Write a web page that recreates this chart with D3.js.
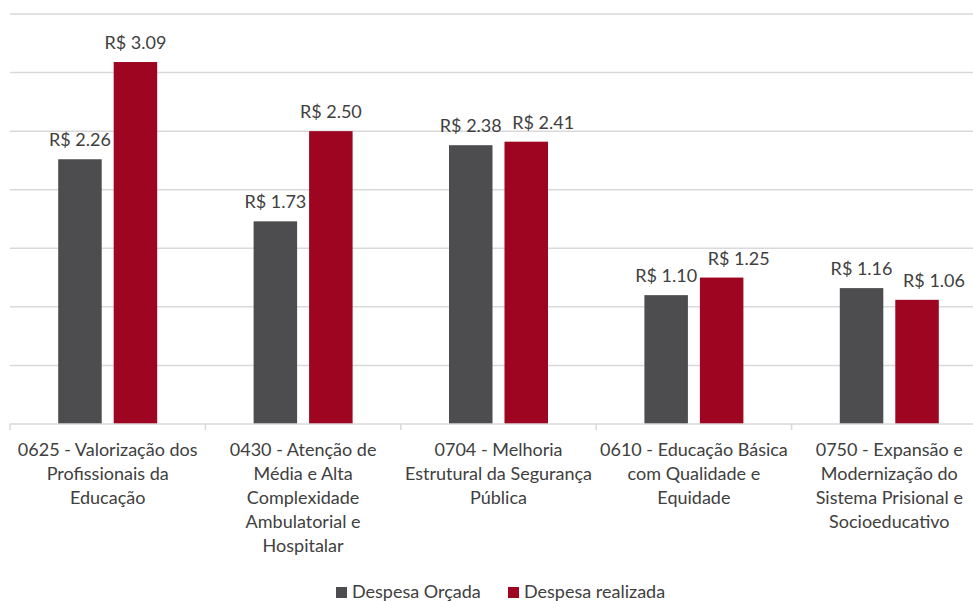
<!DOCTYPE html>
<html>
<head>
<meta charset="utf-8">
<script src="https://cdn.jsdelivr.net/npm/d3@7"></script>
<style>
  body { margin: 0; background: #fff; }
  svg { display: block; font-family: Lato, "Open Sans", sans-serif; }
</style>
</head>
<body>
<div id="vis"></div>
<script>
const FRAME_WIDTH = 973;
const FRAME_HEIGHT = 601;
const PLOT = { left: 10, right: 987, top: 14, bottom: 424 };

const CATEGORIES = ["0625", "0430", "0704", "0610", "0750"];
const CATEGORY_LABELS = [
  ["0625 - Valorização dos", "Profissionais da", "Educação"],
  ["0430 - Atenção de", "Média e Alta", "Complexidade", "Ambulatorial e", "Hospitalar"],
  ["0704 - Melhoria", "Estrutural da Segurança", "Pública"],
  ["0610 - Educação Básica", "com Qualidade e", "Equidade"],
  ["0750 - Expansão e", "Modernização do", "Sistema Prisional e", "Socioeducativo"]
];
const SERIES = ["Despesa Orçada", "Despesa realizada"];
const ORCADA = [2.26, 1.73, 2.38, 1.10, 1.16];
const REALIZADA = [3.09, 2.50, 2.41, 1.25, 1.06];
const Y_TICKS = [0, 0.5, 1, 1.5, 2, 2.5, 3, 3.5];

const COLOR = d3.scaleOrdinal().domain(SERIES).range(["#4d4d4f", "#9d0521"]);

const data = CATEGORIES.map((c, i) => ({
  cat: c,
  values: [
    { series: SERIES[0], value: ORCADA[i] },
    { series: SERIES[1], value: REALIZADA[i] }
  ]
}));

const FRAME = d3.select("#vis")
  .append("svg")
  .attr("width", FRAME_WIDTH)
  .attr("height", FRAME_HEIGHT);

const X_SCALE = d3.scaleBand()
  .domain(CATEGORIES)
  .range([PLOT.left, PLOT.right]);

const GROUP_WIDTH = 99;
const X_INNER = d3.scaleBand()
  .domain(SERIES)
  .range([X_SCALE.bandwidth() / 2 - GROUP_WIDTH / 2, X_SCALE.bandwidth() / 2 + GROUP_WIDTH / 2])
  .paddingInner(0.216);

const Y_SCALE = d3.scaleLinear()
  .domain([0, 3.5])
  .range([PLOT.bottom, PLOT.top]);

// gridlines
FRAME.append("g")
  .selectAll("line")
  .data(Y_TICKS.slice(1))
  .enter()
  .append("line")
  .attr("x1", PLOT.left)
  .attr("x2", FRAME_WIDTH)
  .attr("y1", (d) => Y_SCALE(d))
  .attr("y2", (d) => Y_SCALE(d))
  .attr("stroke", "#d9d9d9")
  .attr("stroke-width", 1.5);

// bars
const groups = FRAME.selectAll(".group")
  .data(data)
  .enter()
  .append("g")
  .attr("class", "group")
  .attr("transform", (d) => `translate(${X_SCALE(d.cat)},0)`);

groups.selectAll("rect")
  .data((d) => d.values)
  .enter()
  .append("rect")
  .attr("x", (d) => X_INNER(d.series))
  .attr("y", (d) => Y_SCALE(d.value))
  .attr("width", X_INNER.bandwidth())
  .attr("height", (d) => Y_SCALE(0) - Y_SCALE(d.value))
  .attr("fill", (d) => COLOR(d.series));

// value labels; shift the second one right when both labels sit at the same height
groups.each(function (d) {
  const g = d3.select(this);
  const close = Math.abs(Y_SCALE(d.values[0].value) - Y_SCALE(d.values[1].value)) < 20;
  d.values.forEach((v, i) => {
    g.append("text")
      .attr("x", X_INNER(v.series) + X_INNER.bandwidth() / 2 + (close && i === 1 ? 17 : 0))
      .attr("y", Y_SCALE(v.value) - 13)
      .attr("text-anchor", "middle")
      .attr("fill", "#404040")
      .style("font-size", "18px")
      .text("R$ " + v.value.toFixed(2));
  });
});

// x axis
const xAxis = FRAME.append("g")
  .attr("transform", `translate(0,${PLOT.bottom})`);

xAxis.append("line")
  .attr("x1", PLOT.left)
  .attr("x2", PLOT.right)
  .attr("stroke", "#d9d9d9")
  .attr("stroke-width", 1.5);

xAxis.selectAll(".tick")
  .data(CATEGORIES.map((c) => X_SCALE(c)).concat([PLOT.right]))
  .enter()
  .append("line")
  .attr("x1", (d) => d)
  .attr("x2", (d) => d)
  .attr("y1", 0)
  .attr("y2", 6)
  .attr("stroke", "#d9d9d9")
  .attr("stroke-width", 1.5);

xAxis.selectAll(".label")
  .data(CATEGORIES)
  .enter()
  .append("text")
  .attr("class", "label")
  .attr("text-anchor", "middle")
  .attr("fill", "#404040")
  .style("font-size", "18px")
  .each(function (c, i) {
    d3.select(this)
      .selectAll("tspan")
      .data(CATEGORY_LABELS[i])
      .enter()
      .append("tspan")
      .attr("x", X_SCALE(c) + X_SCALE.bandwidth() / 2)
      .attr("y", (l, j) => 32 + j * 24)
      .text((l) => l);
  });

// legend
const legend = FRAME.append("g")
  .attr("transform", "translate(336,598)");

const legendX = [0, 172];
SERIES.forEach((s, i) => {
  legend.append("rect")
    .attr("x", legendX[i])
    .attr("y", -11)
    .attr("width", 11)
    .attr("height", 11)
    .attr("fill", COLOR(s));
  legend.append("text")
    .attr("x", legendX[i] + 16)
    .attr("y", 0)
    .attr("fill", "#404040")
    .style("font-size", "18px")
    .text(s);
});
</script>
</body>
</html>
